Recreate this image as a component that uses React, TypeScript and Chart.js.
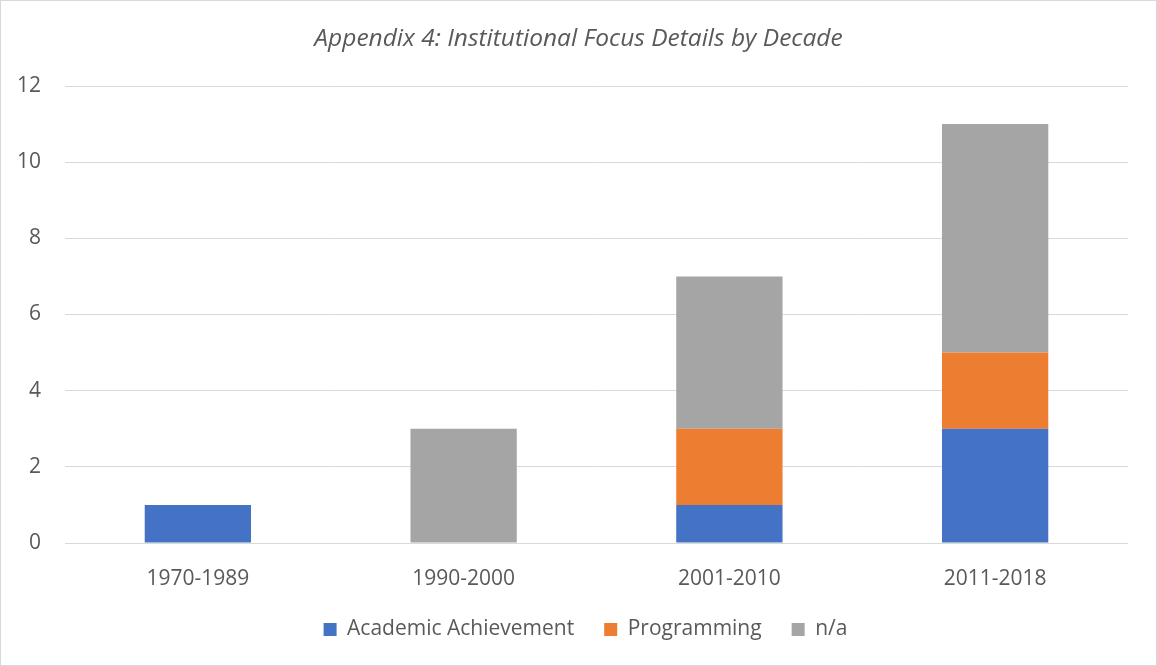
import React, { useEffect, useRef } from "react";
import { Chart, registerables } from "chart.js";

Chart.register(...registerables);

const categories = ["1970-1989", "1990-2000", "2001-2010", "2011-2018"];
const academicAchievement = [1, 0, 1, 3];
const programming = [0, 0, 2, 2];
const notApplicable = [0, 3, 4, 6];
const titleText = "Appendix 4: Institutional Focus Details by Decade";

const FONT = "'Open Sans', sans-serif";
const TEXT = "#595959";

// Nudges the title and legend boxes horizontally so they sit like the reference.
const boxOffsets = {
  id: "boxOffsets",
  afterLayout(chart: any) {
    const shift = (box: any, dx: number) => {
      if (!box) return;
      box.left += dx;
      box.right += dx;
    };
    shift(chart.titleBlock, 14);
    shift(chart.legend, 21);
  },
};

export default function App() {
  const ref = useRef<HTMLCanvasElement | null>(null);
  useEffect(() => {
    if (!ref.current) return;
    const chart = new Chart(ref.current, {
      type: "bar",
      data: {
        labels: categories,
        datasets: [
          { label: "Academic Achievement", data: academicAchievement, backgroundColor: "#4472C4" },
          { label: "Programming", data: programming, backgroundColor: "#ED7D31" },
          { label: "n/a", data: notApplicable, backgroundColor: "#A5A5A5" },
        ],
      },
      options: {
        responsive: false,
        animation: false,
        layout: { padding: { left: 0, right: 28, top: 0, bottom: 15 } },
        datasets: { bar: { barPercentage: 0.4, categoryPercentage: 1 } },
        scales: {
          x: {
            stacked: true,
            grid: { display: false, drawTicks: false },
            border: { display: false },
            ticks: { color: TEXT, font: { family: FONT, size: 21 }, padding: 23 },
            afterFit: (s: any) => { s.height = 46; },
          },
          y: {
            stacked: true,
            min: 0,
            max: 12,
            ticks: { stepSize: 2, color: TEXT, font: { family: FONT, size: 21 }, padding: 24 },
            grid: { color: "#D9D9D9", lineWidth: 1, drawTicks: false },
            border: { display: false },
            afterFit: (s: any) => { s.width = 64; },
          },
        },
        plugins: {
          title: {
            display: true,
            text: titleText,
            color: TEXT,
            font: { family: FONT, size: 24.5, style: "italic", weight: "normal" },
            padding: { top: 23, bottom: 32.6 },
          },
          legend: {
            position: "bottom",
            labels: {
              color: TEXT,
              font: { family: FONT, size: 21 },
              boxWidth: 13,
              boxHeight: 13,
              padding: 30,
            },
          },
          tooltip: { enabled: false },
        },
      },
      plugins: [boxOffsets],
    });
    return () => chart.destroy();
  }, []);
  return (
    <div
      style={{
        position: "fixed",
        left: 0,
        top: 0,
        width: 1157,
        height: 666,
        border: "1px solid #D9D9D9",
        boxSizing: "border-box",
        background: "#fff",
      }}
    >
      <canvas ref={ref} width={1155} height={664} style={{ display: "block" }} />
    </div>
  );
}
